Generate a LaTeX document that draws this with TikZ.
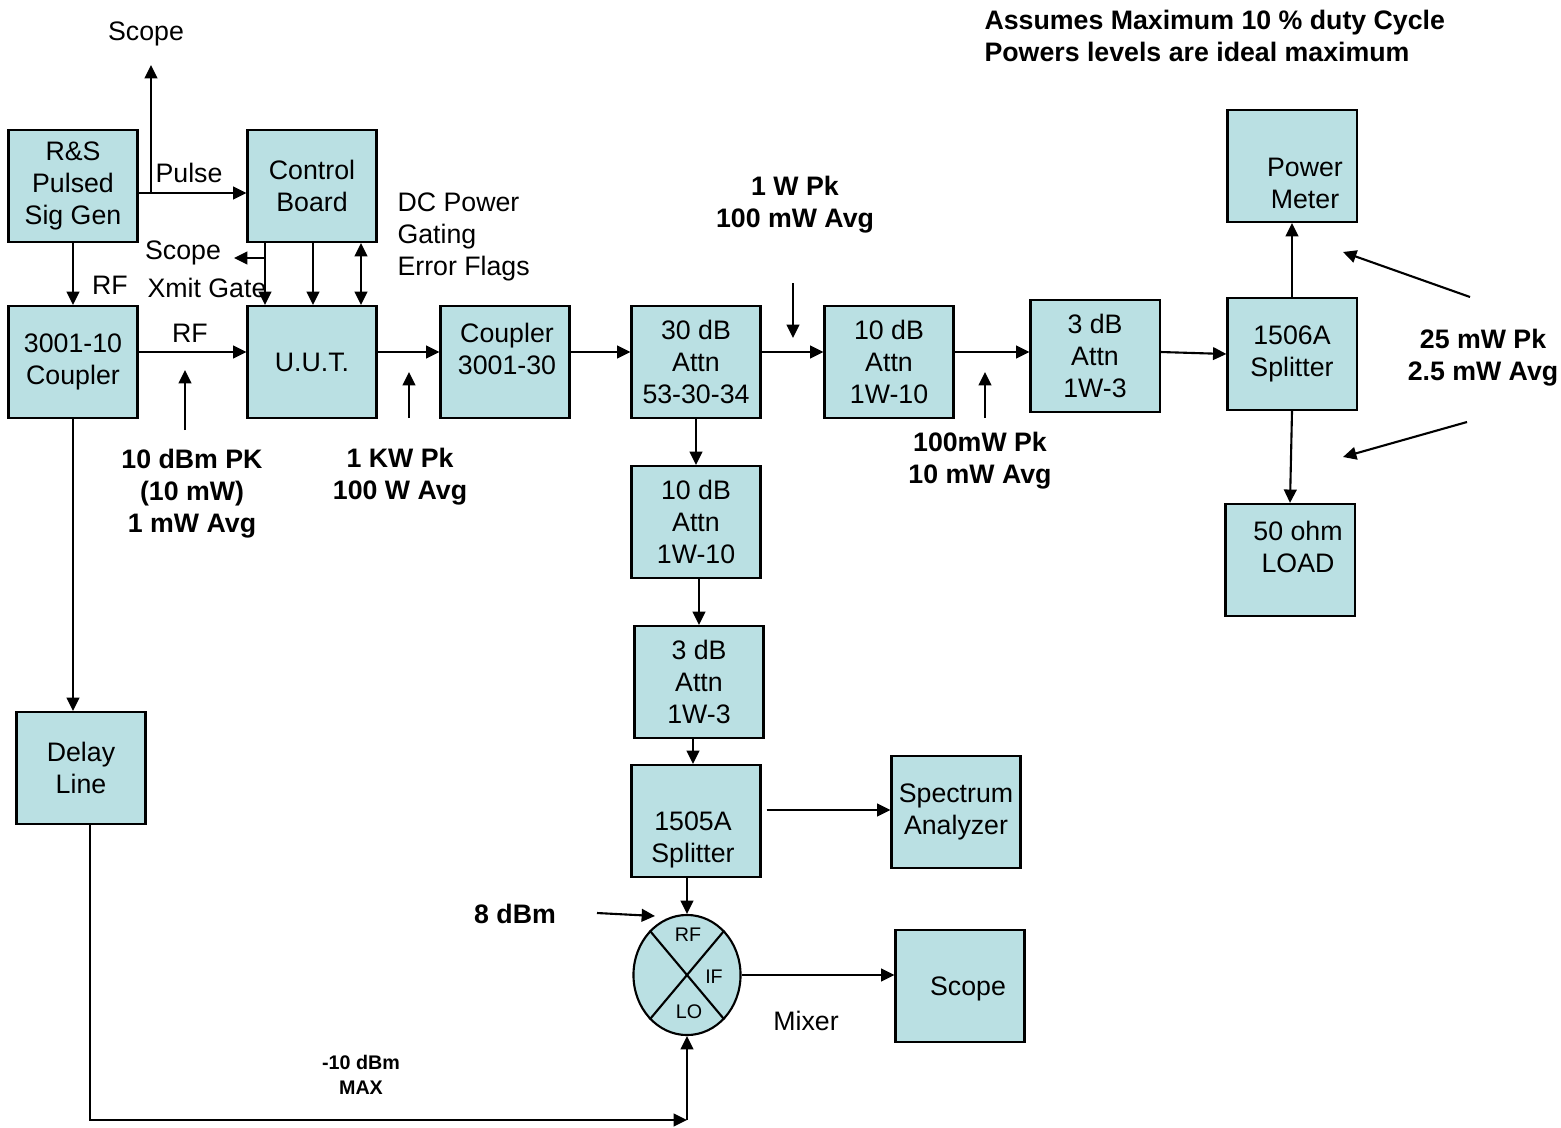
\documentclass[tikz,border=0pt]{standalone}
\usepackage{fontspec}
\setmainfont{Liberation Sans}
\usetikzlibrary{arrows.meta,positioning,calc,shapes.geometric}
\definecolor{boxfill}{RGB}{186,224,227}

\begin{document}
\begin{tikzpicture}[
  x=0.01cm, y=-0.01cm,
  >={Triangle[length=3.8pt,width=3.6pt]},
  line width=0.6pt,
  font=\fontsize{7.6}{9.1}\selectfont,
  %% Instrument blocks: plain filled rectangles
  blk/.style={draw,fill=boxfill,minimum width=1.29cm,minimum height=1.12cm,
              inner sep=0pt,align=center},
  %% Plain text labels
  lbl/.style={align=center,inner sep=1pt},
  %% Power level call-outs: bold
  pwrlbl/.style={align=center,inner sep=1pt,font=\fontsize{7.6}{9.1}\selectfont\bfseries},
  tinylbl/.style={align=center,inner sep=1pt,font=\fontsize{5.6}{7.1}\selectfont\bfseries},
  portlbl/.style={inner sep=0pt,font=\fontsize{5.6}{7}\selectfont}
]
\useasboundingbox (0,0) rectangle (1561,1127);

%% ---- SOURCE AND CONTROL (left) ----
\node[blk] (sig)  at (73,186)  {R\&S\\Pulsed\\Sig Gen};
\node[blk] (ctrl) at (312,186) {Control\\Board};
\node[blk] (cpl)  at (73,362)  {3001-10\\Coupler};
\node[blk] (uut)  at (312,362) {U.U.T.};
\node[blk] (dly)  at (81,768)  {Delay\\Line};

%% ---- MAIN RF CHAIN ----
\node[blk] (cpl30) at (505,362)  {};
\node[lbl] (cpl30txt) at ($(cpl30)+(2,-13)$) {Coupler\\3001-30};
\node[blk] (att30) at (696,362)  {30 dB\\Attn\\53-30-34};
\node[blk] (att10) at (889,362)  {10 dB\\Attn\\1W-10};
\node[blk] (att3)  at (1095,356) {3 dB\\Attn\\1W-3};
\node[blk] (spl6)  at (1292,354) {1506A\\Splitter};
\node[blk] (pm)    at (1292,166) {};
\node[lbl] (pmtxt) at ($(pm)+(13,17)$) {Power\\Meter};
\node[blk] (load)  at (1290,560) {};
\node[lbl] (loadtxt) at ($(load)+(8,-13)$) {50 ohm\\LOAD};

%% ---- SAMPLED BRANCH ----
\node[blk] (att10b) at (696,522) {10 dB\\Attn\\1W-10};
\node[blk] (att3b)  at (699,682) {3 dB\\Attn\\1W-3};
\node[blk] (spl5)   at (696,821) {};
\node[lbl] (spl5txt) at ($(spl5)+(-3,19)$) {1505A\\Splitter};
\node[blk] (spec)   at (956,812) {Spectrum\\Analyzer};
\node[blk] (scp)    at (960,986) {};
\node[lbl] (scptxt) at ($(scp)+(8,3)$) {Scope};

%% Mixer: ellipse with a cross
\node[draw,fill=boxfill,ellipse,minimum width=1.07cm,minimum height=1.2cm,inner sep=0pt]
  (mix) at (687,975) {};
\draw (mix.130) -- (mix.-50);
\draw (mix.50) -- (mix.-130);
\node[portlbl] (mrf) at (688,935)  {RF};
\node[portlbl] (mif) at (714,977)  {IF};
\node[portlbl] (mlo) at (689,1012) {LO};

%% ---- TEXT LABELS ----
\node[lbl] (scopetop) at (146,34)  {Scope};
\node[lbl] (pulse)    at (189,173) {Pulse};
\node[lbl] (rf1)      at (110,285) {RF};
\node[lbl] (rf2)      at (190,333) {RF};
\node[lbl] (scopexg)  at (183,253) {Scope};
\node[lbl] (xmit)     at (207,288) {Xmit Gate};
\node[lbl,align=left,anchor=west] (dcp) at (393,237) {DC Power\\Gating\\Error Flags};
\node[lbl] (mixlbl)   at (806,1021) {Mixer};

\node[pwrlbl] (pk1) at (192,494) {10 dBm PK\\(10 mW)\\1 mW Avg};
\node[pwrlbl] (pk2) at (400,477) {1 KW Pk\\100 W Avg};
\node[pwrlbl] (pk3) at (795,205) {1 W Pk\\100 mW Avg};
\node[pwrlbl] (pk4) at (980,461) {100mW Pk\\10 mW Avg};
\node[pwrlbl] (pk5) at (1483,358) {25 mW Pk\\2.5 mW Avg};
\node[pwrlbl] (pk6) at (515,914) {8 dBm};
\node[tinylbl] (lomax) at (361,1075) {-10 dBm\\MAX};
\node[pwrlbl,align=left,anchor=west] (note) at (980,36)
  {Assumes Maximum 10 \% duty Cycle\\Powers levels are ideal maximum};

%% ---- SOURCE CONNECTIONS ----
\coordinate (tap) at (151,193);
\coordinate (scopetip) at (151,65);
\draw[->] (sig.east |- tap) -- (ctrl.west |- tap);
\draw[->] (tap) -- (scopetip);
\draw[->] (sig) -- (cpl);
\draw[->] ($(ctrl.south)+(-47,0)$) -- ($(uut.north)+(-47,0)$);
\draw[->] ($(ctrl.south)+(1,0)$)   -- ($(uut.north)+(1,0)$);
\draw[<->] ($(ctrl.south)+(49,0)$) -- ($(uut.north)+(49,0)$);
\coordinate (xg) at (265,258);
\draw[->] (xg) -- ++(-31,0);

%% ---- MAIN CHAIN (straight) ----
\draw[->] ($(cpl.east)+(0,-10)$)   -- ($(uut.west)+(0,-10)$);
\draw[->] ($(uut.east)+(0,-10)$)   -- ($(cpl30.west)+(0,-10)$);
\draw[->] ($(cpl30.east)+(0,-10)$) -- ($(att30.west)+(0,-10)$);
\draw[->] ($(att30.east)+(0,-10)$) -- ($(att10.west)+(0,-10)$);
\draw[->] ($(att10.east)+(0,-10)$) -- ($(att3.west)+(0,-4)$);
\draw[->] ($(att3.east)+(0,-4)$)   -- (spl6.west);
\draw[->] (spl6.north) -- (pm.south);
\draw[->] (spl6.south) -- (load.north);

%% ---- SAMPLED BRANCH ----
\draw[->] (att30.south) -- (att10b.north);
\draw[->] ($(att10b.south)+(3,0)$) -- (att3b.north);
\draw[->] ($(att3b.south)+(-6,0)$) -- ($(spl5.north)+(-3,0)$);
\draw[->] ($(spl5.east)+(5,-11)$) -- ($(spec.west)+(0,-2)$);
\draw[->] ($(spl5.south)+(-9,0)$) -- (mix.north);
\draw[->] (mix.east) -- (mix.east -| scp.west);

%% ---- DELAYED LO PATH ----
\coordinate (lo) at (687,1120);
\draw[->] (cpl.south) -- (cpl.south |- dly.north);
\draw[->] ($(dly.south)+(9,0)$) |- (lo);
\draw[->] (lo) -- (mix.south);

%% ---- LEVEL POINTERS ----
\coordinate (m1) at (185,430);
\coordinate (m2) at (409,418);
\coordinate (m3) at (793,283);
\coordinate (m4) at (985,418);
\draw[->] (m1) -- ++(0,-60);
\draw[->] (m2) -- ++(0,-46);
\draw[->] (m3) -- ++(0,55);
\draw[->] (m4) -- ++(0,-46);
\coordinate (m5) at (1470,297);
\coordinate (m6) at (1467,422);
\draw[->] (m5) -- (1343,252);
\draw[->] (m6) -- (1343,457);
\coordinate (m7) at (597,913);
\draw[->] (m7) -- (655,916);

\end{tikzpicture}
\end{document}
